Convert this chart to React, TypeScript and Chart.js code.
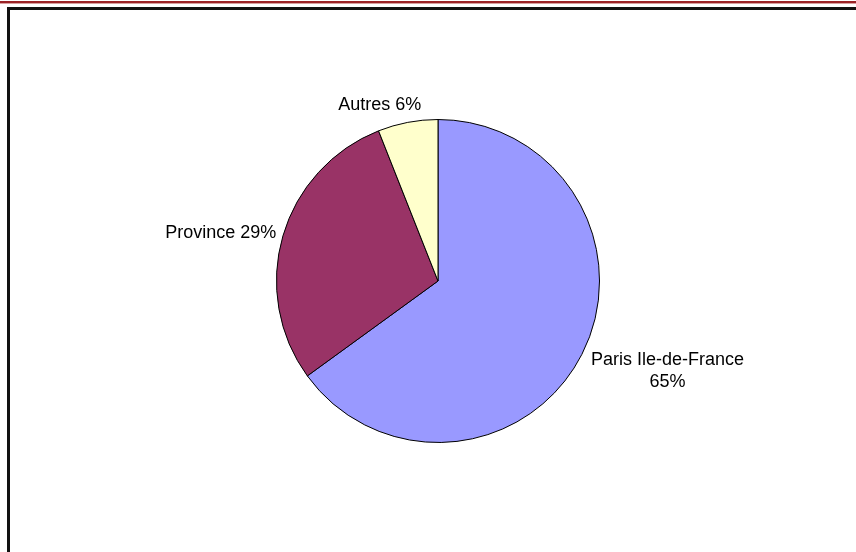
import React, { useEffect, useRef } from "react";
import { Chart, registerables } from "chart.js";

Chart.register(...registerables);

const categories = ["Paris Ile-de-France", "Province", "Autres"];
const shares = [65, 29, 6];
const labelLines = [["Paris Ile-de-France", "65%"], ["Province 29%"], ["Autres 6%"]];
const sliceColors = ["#9999FF", "#993366", "#FFFFCC"];

const outsideLabels = {
  id: "outsideLabels",
  afterDraw(chart: any, _args: any, opts: any) {
    const ctx = chart.ctx;
    const meta = chart.getDatasetMeta(0);
    ctx.save();
    ctx.font = opts.font;
    ctx.fillStyle = "#000";
    ctx.textAlign = "center";
    ctx.textBaseline = "middle";
    meta.data.forEach((arc: any, i: number) => {
      const p = arc.getProps(["x", "y", "startAngle", "endAngle", "outerRadius"], true);
      const mid = (p.startAngle + p.endAngle) / 2;
      const r = p.outerRadius + opts.gap;
      const ax = p.x + Math.cos(mid) * r;
      const ay = p.y + Math.sin(mid) * r;
      const lines = opts.lines[i];
      const w = Math.max(...lines.map((l: string) => ctx.measureText(l).width));
      const h = lines.length * opts.lineHeight;
      const nudge = opts.nudges[i] || [0, 0];
      const cx = ax + (Math.cos(mid) * w) / 2 + nudge[0];
      const cy = ay + (Math.sin(mid) * h) / 2 + nudge[1];
      lines.forEach((l: string, k: number) => {
        ctx.fillText(l, cx, cy - h / 2 + opts.lineHeight * (k + 0.5));
      });
    });
    ctx.restore();
  },
};

export default function App() {
  const ref = useRef<HTMLCanvasElement>(null);
  useEffect(() => {
    document.body.style.margin = "0";
    const chart = new Chart(ref.current!, {
      type: "pie",
      data: {
        labels: categories,
        datasets: [
          {
            data: shares,
            backgroundColor: sliceColors,
            borderColor: "#000",
            borderWidth: 1,
          },
        ],
      },
      options: {
        animation: false,
        responsive: false,
        events: [],
        layout: { padding: { top: 119, bottom: 109, left: 276, right: 256 } },
        plugins: {
          legend: { display: false },
          tooltip: { enabled: false },
          outsideLabels: {
            font: "18px 'Liberation Sans', Arial, sans-serif",
            lineHeight: 22,
            gap: 6,
            lines: labelLines,
            nudges: [[12, 4], [-3, 2], [-19, -1]],
          },
        } as any,
      },
      plugins: [outsideLabels],
    });
    return () => chart.destroy();
  }, []);
  return (
    <div style={{ position: "relative", width: 856, height: 552, overflow: "hidden", background: "#fff" }}>
      <div style={{ position: "absolute", left: 0, top: 1, width: 856, height: 2, background: "#9B2226" }} />
      <div style={{ position: "absolute", left: 0, top: 3, width: 856, height: 1, background: "#D8A0A0" }} />
      <div
        style={{
          position: "absolute",
          left: 7,
          top: 7,
          width: 900,
          height: 600,
          borderTop: "3px solid #111",
          borderLeft: "3px solid #111",
        }}
      />
      <canvas ref={ref} width={856} height={552} style={{ position: "absolute", left: 0, top: 0 }} />
    </div>
  );
}
